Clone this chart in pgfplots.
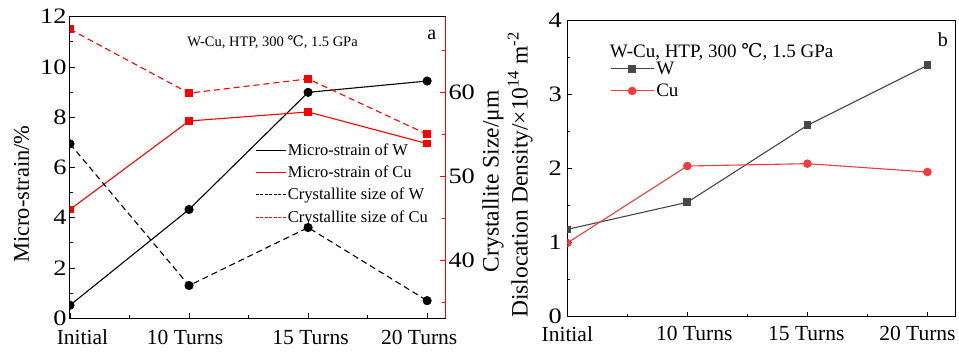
\documentclass[border=0pt]{standalone}
\usepackage{fontspec}
\setmainfont{Liberation Serif}
\newfontfamily\wide[FakeStretch=1.2]{Liberation Serif}
\newfontfamily\dejavu{DejaVu Serif}
\usepackage{pgfplots}
\pgfplotsset{compat=1.18}
\newcommand{\degC}{{\dejavu ℃}}
\definecolor{wgray}{HTML}{474747}
\definecolor{cured}{HTML}{F03C3C}
\pgfplotsset{
  common/.style={
    scale only axis, anchor=south west,
    clip marker paths=true,
    xtick={0,1,2,3}, minor xtick={0.5,1.5,2.5},
    xtick pos=bottom, ytick pos=left,
    major tick length=5pt, minor tick length=3pt,
    every tick/.style={line width=0.8pt},
    axis line style={line width=1pt},
    xticklabel style={font=\fontsize{21.5}{21.5}\selectfont},
    yticklabel style={font=\wide\fontsize{22}{22}\selectfont},
    /pgf/number format/assume math mode=true,
  }
}
\begin{document}
\begin{tikzpicture}
\path[use as bounding box] (0pt,0pt) rectangle (959pt,352pt);
% ---------- panel a, left axis
\begin{axis}[common,
  at={(70pt,33.7pt)}, width=375pt, height=301.6pt,
  xmin=0, xmax=3.15, ymin=0, ymax=12,
  xticklabels={\hspace*{25pt}Initial,10 Turns\hspace*{8pt},\hspace*{5pt}15 Turns,20 Turns\hspace*{16pt}},
  xticklabel style={yshift=-8pt},
  ytick={0,2,...,12}, minor ytick={1,3,...,11},
  ylabel={Micro-strain/\%},
  ylabel style={font=\fontsize{22.5}{22.5}\selectfont, at={(axis description cs:-0.129,0.412)}, anchor=center},
]
\addplot[black, line width=1.1pt, mark=*, mark size=4pt] coordinates {(0,0.52)(1,4.33)(2,8.99)(3,9.44)};
\addplot[red, line width=1.1pt, mark=square*, mark size=3.3pt] coordinates {(0,4.33)(1,7.85)(2,8.21)(3,6.95)};
\node[font=\fontsize{14.5}{14.5}\selectfont] at (rel axis cs:0.54,0.916) {W-Cu, HTP, 300 \degC, 1.5 GPa};
\node[font=\fontsize{20}{20}\selectfont] at (rel axis cs:0.965,0.939) {a};
\end{axis}
% ---------- panel a, right axis
\begin{axis}[common,
  at={(70pt,33.7pt)}, width=375pt, height=301.6pt,
  xmin=0, xmax=3.15, ymin=33.1, ymax=69,
  axis x line=none, axis y line*=right, ytick pos=right,
  ytick={40,50,60}, minor ytick={35,45,55,65},
  y axis line style={red, line width=1pt},
  ytick style={red},
  yticklabel style={black},
  legend style={at={(axis description cs:0.493,0.585)}, anchor=north west,
    draw=none, fill=none, font=\fontsize{16.5}{16.5}\selectfont,
    cells={anchor=west}, row sep=5pt, inner sep=0pt},
  legend image code/.code={\draw[#1] (0pt,0pt) -- (30pt,0pt);},
]
\addlegendimage{black, line width=0.9pt}
\addlegendentry{Micro-strain of W}
\addlegendimage{red, line width=0.9pt}
\addlegendentry{Micro-strain of Cu}
\addlegendimage{black, line width=0.9pt, dash pattern=on 3pt off 1.5pt}
\addlegendentry{Crystallite size of W}
\addlegendimage{red, line width=0.9pt, dash pattern=on 3pt off 1.5pt}
\addlegendentry{Crystallite size of Cu}
\addplot[black, line width=1.1pt, dash pattern=on 6pt off 4pt, mark=*, mark size=4pt, mark options={solid}, forget plot] coordinates {(0,53.86)(1,37.0)(2,43.9)(3,35.2)};
\addplot[red, line width=1.1pt, dash pattern=on 6pt off 4pt, mark=square*, mark size=3.3pt, mark options={solid}, forget plot] coordinates {(0,67.5)(1,59.9)(2,61.6)(3,55.0)};
\end{axis}
% ---------- panel b
\begin{axis}[common,
  at={(567.3pt,35.3pt)}, width=387.7pt, height=296pt,
  xmin=0, xmax=3.23, ymin=0, ymax=4,
  xticklabels={Initial,\hspace*{14pt}10 Turns,15 Turns\hspace*{2pt},20 Turns\hspace*{20pt}},
  xticklabel style={yshift=-6pt},
  ytick={0,1,...,4}, minor ytick={0.5,1.5,...,3.5},
  yticklabel style={xshift=-2pt},
  ylabel={Crystallite Size/μm\hspace*{13pt}\\Dislocation Density/×10\textsuperscript{14} m\textsuperscript{-2}},
  ylabel style={font=\fontsize{23.5}{29}\selectfont, align=center, at={(axis description cs:-0.154,0.479)}, anchor=center},
  legend style={at={(axis description cs:0.110,0.868)}, anchor=north west,
    draw=none, fill=none, font=\fontsize{19}{19}\selectfont,
    cells={anchor=west}, row sep=4pt, inner sep=0pt},
  legend image code/.code={\draw[#1] (0pt,0pt) -- (43pt,0pt); \path[#1] plot coordinates {(21.5pt,0pt)};},
]
\addplot[wgray, line width=1.1pt, mark=square*, mark size=3.3pt] coordinates {(0,1.18)(1,1.546)(2,2.586)(3,3.397)};
\addlegendentry{W}
\addplot[cured, line width=1.1pt, mark=*, mark size=3.7pt] coordinates {(0,0.996)(1,2.036)(2,2.068)(3,1.955)};
\addlegendentry{Cu}
\node[font=\fontsize{19}{19}\selectfont] at (rel axis cs:0.398,0.896) {W-Cu, HTP, 300 \degC, 1.5 GPa};
\node[font=\fontsize{20}{20}\selectfont] at (rel axis cs:0.969,0.935) {b};
\end{axis}
\end{tikzpicture}
\end{document}
